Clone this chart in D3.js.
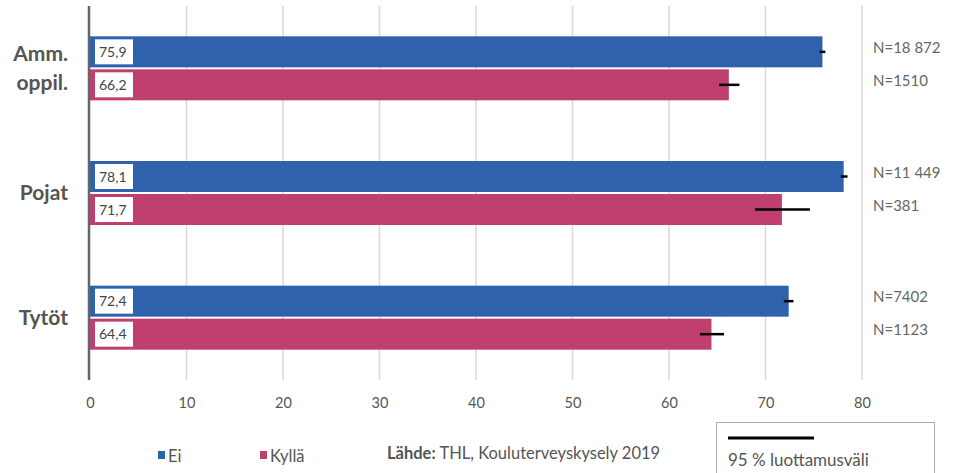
<!DOCTYPE html>
<html>
<head>
<meta charset="utf-8">
<script src="https://cdn.jsdelivr.net/npm/d3@7"></script>
<style>
body { margin: 0; background: #fff; }
svg text { font-family: "Source Sans Pro", Lato, "Noto Sans", sans-serif; }
</style>
</head>
<body>
<svg id="chart" width="955" height="473"></svg>
<script>
const categories = ["Amm.\noppil.", "Pojat", "Tytöt"];
const seriesNames = ["Ei", "Kyllä"];
const eiValues = [75.9, 78.1, 72.4];
const kyllaValues = [66.2, 71.7, 64.4];
const eiCI = [[75.6, 76.2], [77.8, 78.5], [71.9, 72.9]];
const kyllaCI = [[65.2, 67.3], [68.9, 74.6], [63.2, 65.7]];
const eiN = ["N=18 872", "N=11 449", "N=7402"];
const kyllaN = ["N=1510", "N=381", "N=1123"];
const xTicks = [0, 10, 20, 30, 40, 50, 60, 70, 80];
const colors = ["#2e62ad", "#bf3f6f"];
const sourceBold = "Lähde:";
const sourceText = " THL, Kouluterveyskysely 2019";
const ciLabel = "95 % luottamusväli";

const svg = d3.select("#chart");
const x = d3.scaleLinear().domain([0, 80]).range([90, 862]);
const y = d3.scaleBand().domain(categories).range([6, 380]);
const barH = 31, gap = 1;

// gridlines
svg.append("g").selectAll("line").data(xTicks.filter(d => d > 0)).join("line")
  .attr("x1", d => x(d)).attr("x2", d => x(d))
  .attr("y1", 6).attr("y2", 380)
  .attr("stroke", "#d9d9d9").attr("stroke-width", 1.5);

const rows = [];
categories.forEach((c, i) => {
  const cy = y(c) + y.bandwidth() / 2;
  rows.push({cat: c, s: 0, v: eiValues[i], ci: eiCI[i], n: eiN[i], y0: cy - gap - barH});
  rows.push({cat: c, s: 1, v: kyllaValues[i], ci: kyllaCI[i], n: kyllaN[i], y0: cy + gap});
});

// bars
svg.append("g").selectAll("rect").data(rows).join("rect")
  .attr("x", x(0)).attr("y", d => d.y0)
  .attr("width", d => x(d.v) - x(0)).attr("height", barH)
  .attr("fill", d => colors[d.s]);

// value boxes
const vb = svg.append("g").selectAll("g").data(rows).join("g");
vb.append("rect")
  .attr("x", 95).attr("y", d => d.y0 + 3)
  .attr("width", 38).attr("height", barH - 6)
  .attr("fill", "#fff");
vb.append("text")
  .attr("x", 99).attr("y", d => d.y0 + barH / 2 + 5)
  .attr("font-size", 14).attr("fill", "#444")
  .text(d => d.v.toFixed(1).replace(".", ","));

// error bars
svg.append("g").selectAll("line").data(rows).join("line")
  .attr("x1", d => x(d.ci[0])).attr("x2", d => x(d.ci[1]))
  .attr("y1", d => d.y0 + barH / 2).attr("y2", d => d.y0 + barH / 2)
  .attr("stroke", "#000").attr("stroke-width", 2.5);

// N labels
svg.append("g").selectAll("text").data(rows).join("text")
  .attr("x", 873).attr("y", d => d.y0 + barH / 2 + 1)
  .attr("font-size", 15).attr("fill", "#666")
  .text(d => d.n);

// left axis line
svg.append("line").attr("x1", 89).attr("x2", 89).attr("y1", 6).attr("y2", 380)
  .attr("stroke", "#666").attr("stroke-width", 2.5);

// category labels
categories.forEach(c => {
  const lines = c.split("\n");
  const cy = y(c) + y.bandwidth() / 2;
  const t = svg.append("text").attr("text-anchor", "end")
    .attr("font-size", 21).attr("font-weight", "bold").attr("fill", "#555");
  lines.forEach((l, j) => {
    t.append("tspan").attr("x", 68)
      .attr("y", cy + 7 + (j - (lines.length - 1) / 2) * 29).text(l);
  });
});

// x axis
const xAxis = d3.axisBottom(x).tickValues(xTicks).tickSize(0).tickPadding(18);
const gx = svg.append("g").attr("transform", "translate(0,380)").call(xAxis);
gx.select(".domain").remove();
gx.selectAll("text").attr("font-size", 14.5).attr("fill", "#555")
  .style("font-family", "\"Source Sans Pro\", Lato, \"Noto Sans\", sans-serif");

// legend
const leg = svg.append("g");
[[158, 0], [260, 1]].forEach(([lx, i]) => {
  leg.append("rect").attr("x", lx).attr("y", 451).attr("width", 7).attr("height", 8).attr("fill", colors[i]);
  leg.append("text").attr("x", lx + 10).attr("y", 462).attr("font-size", 16.5).attr("fill", "#555").text(seriesNames[i]);
});
const src = svg.append("text").attr("x", 387).attr("y", 459).attr("font-size", 16.5).attr("fill", "#555");
src.append("tspan").attr("font-weight", "bold").text(sourceBold);
src.append("tspan").text(sourceText);

svg.append("rect").attr("x", 716.5).attr("y", 422.5).attr("width", 218).attr("height", 60)
  .attr("fill", "#fff").attr("stroke", "#aaa").attr("stroke-width", 1);
svg.append("line").attr("x1", 728).attr("x2", 814).attr("y1", 438).attr("y2", 438)
  .attr("stroke", "#000").attr("stroke-width", 3);
svg.append("text").attr("x", 728).attr("y", 466).attr("font-size", 17).attr("fill", "#555").text(ciLabel);
</script>
</body>
</html>
